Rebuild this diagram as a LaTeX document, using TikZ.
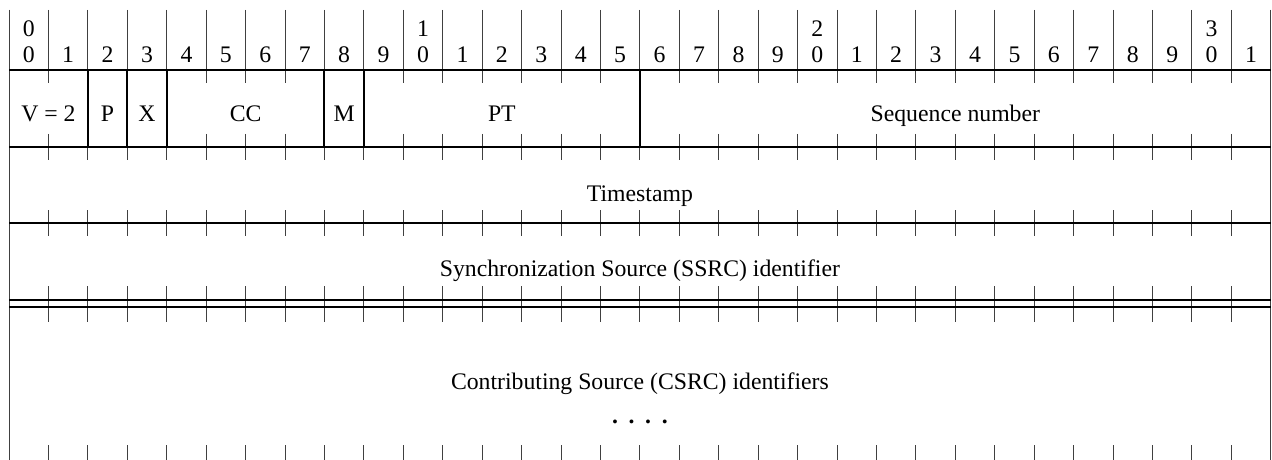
\documentclass[tikz,border=0pt]{standalone}
\usepackage{fontspec}
\setmainfont{Liberation Serif}
\tikzset{
	bitline/.style={line width=0.75pt, black!75},
	rowline/.style={line width=1.5pt},
	fieldsep/.style={line width=1.5pt},
	lbl/.style={font=\fontsize{17.8}{21}\selectfont, inner sep=0pt, anchor=base},
}
\newcommand{\colx}[1]{9+39.43*(#1)}
\begin{document}
\begin{tikzpicture}[x=0.75pt,y=-0.75pt]
	\useasboundingbox (0,0) rectangle (1272,460);
	
	% header: bit numbers
	\foreach \i in {0,...,32}
	\draw[bitline] ({\colx{\i}},10) -- ({\colx{\i}},70);
	\foreach \i in {0,...,31} {
		\pgfmathtruncatemacro{\u}{mod(\i,10)}
		\node[lbl] (bit\i) at ({\colx{\i+0.5}},63) {\u};
	}
	\foreach \t in {0,1,2,3}
	\node[lbl] (tens\t) at ({\colx{10*\t+0.5}},37) {\t};
	
	% outer border
	\draw[bitline] ({\colx{0}},10) -- ({\colx{0}},460);
	\draw[bitline] ({\colx{32}},10) -- ({\colx{32}},460);
	
	% ticks on the rows
	\foreach \i in {1,...,31} {
		\draw[bitline] ({\colx{\i}},70) -- ({\colx{\i}},83);
		\draw[bitline] ({\colx{\i}},134) -- ({\colx{\i}},160);
		\draw[bitline] ({\colx{\i}},210) -- ({\colx{\i}},236);
		\draw[bitline] ({\colx{\i}},286) -- ({\colx{\i}},322);
		\draw[bitline] ({\colx{\i}},445) -- ({\colx{\i}},460);
	}
	
	% row lines
	\foreach \y in {70,147,223,300,307}
	\draw[rowline] ({\colx{0}},\y) -- ({\colx{32}},\y);
	
	% first word: field borders
	\foreach \i in {2,3,4,8,9,16}
	\draw[fieldsep] ({\colx{\i}},70) -- ({\colx{\i}},147);
	
	\node[lbl] (ver) at ({\colx{1}},122) {V = 2};
	\node[lbl] (pad) at ({\colx{2.5}},122) {P};
	\node[lbl] (ext) at ({\colx{3.5}},122) {X};
	\node[lbl] (cc) at ({\colx{6}},122) {CC};
	\node[lbl] (mark) at ({\colx{8.5}},122) {M};
	\node[lbl] (pt) at ({\colx{12.5}},122) {PT};
	\node[lbl] (seq) at ({\colx{24}},122) {Sequence number};
	
	% other words
	\node[lbl] (ts) at ({\colx{16}},201) {Timestamp};
	\node[lbl] (ssrc) at ({\colx{16}},276) {Synchronization Source (SSRC) identifier};
	\node[lbl] (csrc) at ({\colx{16}},389) {Contributing Source (CSRC) identifiers};
	\node[lbl] (dots) at ({\colx{16}},423) {\textbf{.\kern8pt.\kern8pt.\kern8pt.}};
\end{tikzpicture}
\end{document}
